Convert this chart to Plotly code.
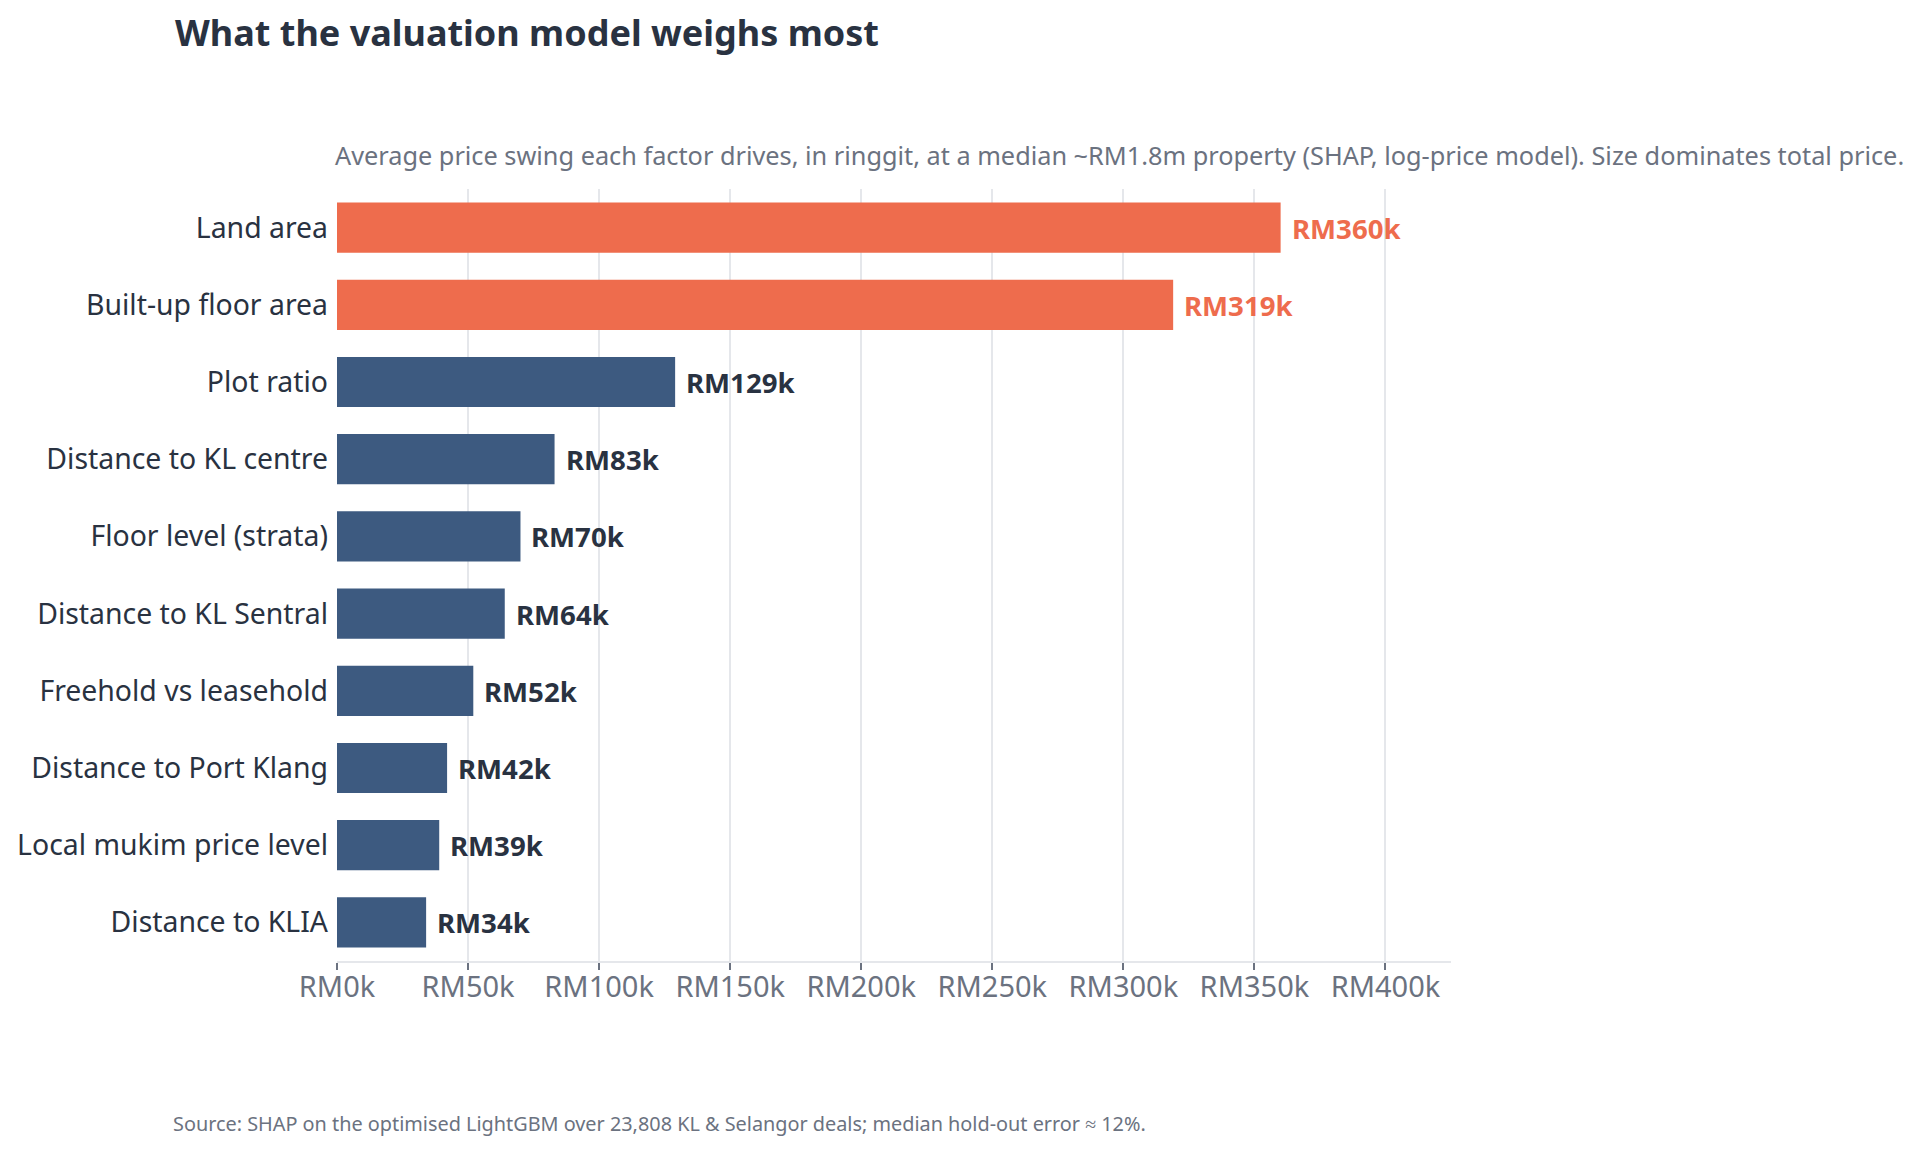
import plotly.graph_objects as go

# factors ranked by mean |SHAP| converted to ringgit (thousands)
factors = ["Land area", "Built-up floor area", "Plot ratio", "Distance to KL centre",
           "Floor level (strata)", "Distance to KL Sentral", "Freehold vs leasehold",
           "Distance to Port Klang", "Local mukim price level", "Distance to KLIA"]
swing_k = [360, 319, 129, 83, 70, 64, 52, 42, 39, 34]
highlight = [True, True, False, False, False, False, False, False, False, False]
tick_vals = [0, 50, 100, 150, 200, 250, 300, 350, 400]
tick_text = ["RM%dk" % v for v in tick_vals]

ORANGE = "#EE6C4D"
NAVY = "#3D5A80"
DARK = "#293241"
GREY = "#6B7280"
FONT = "Noto Sans"

# page has an 8px body margin, so the figure is laid out relative to that
W, H = 1920, 1152
ML, MR, MT, MB = 329, 477, 181, 199

values = [v * 1000 for v in swing_k]
colors = [ORANGE if h else NAVY for h in highlight]

fig = go.Figure()
fig.add_trace(go.Bar(
    x=values, y=factors, orientation="h",
    marker=dict(color=colors, line=dict(width=0)),
    hoverinfo="skip",
))

# value labels at the end of each bar
for f, v, h in zip(factors, values, highlight):
    fig.add_annotation(
        x=v, y=f, xref="x", yref="y", text="RM%dk" % (v // 1000),
        showarrow=False, xanchor="left", xshift=9,
        font=dict(family=FONT, size=27.6, color=ORANGE if h else DARK, weight=700),
    )

# subtitle sits just above the plot area, flush with its left edge
fig.add_annotation(
    x=0, y=1, xref="paper", yref="paper", yshift=34, xshift=-4,
    xanchor="left", yanchor="middle",
    text="Average price swing each factor drives, in ringgit, at a median ~RM1.8m property "
         "(SHAP, log-price model). Size dominates total price.",
    showarrow=False, font=dict(family=FONT, size=25.3, color=GREY),
)

# footnote in the bottom-left gutter
pw, ph = W - ML - MR, H - MT - MB
fig.add_annotation(
    x=(163 - ML) / pw, y=(MB - 37) / -ph, xref="paper", yref="paper",
    xanchor="left", yanchor="middle",
    text="Source: SHAP on the optimised LightGBM over 23,808 KL &amp; Selangor deals; "
         "median hold-out error \u2248 12%.",
    showarrow=False, font=dict(family=FONT, size=19.85, color=GREY),
)

fig.update_layout(
    width=W, height=H,
    paper_bgcolor="white", plot_bgcolor="white",
    title=dict(text="What the valuation model weighs most", x=167 / W, xanchor="left",
               y=1 - 25.5 / H, yanchor="middle",
               font=dict(family=FONT, size=36, color=DARK, weight=700)),
    margin=dict(l=ML, r=MR, t=MT, b=MB),
    bargap=0.35,
    showlegend=False,
    font=dict(family=FONT, color=DARK),
)
fig.update_xaxes(
    range=[0, 425000], tickvals=[v * 1000 for v in tick_vals], ticktext=tick_text,
    showgrid=True, gridcolor="#E5E7EB", gridwidth=2,
    showline=True, linecolor="#E5E7EB", linewidth=2,
    ticks="outside", ticklen=7, tickcolor=GREY, tickwidth=2, ticklabelstandoff=-8,
    tickfont=dict(family=FONT, size=29, color=GREY), zeroline=False,
    automargin=False,
)
fig.update_yaxes(
    autorange="reversed", ticks="", ticklabelstandoff=8,
    tickfont=dict(family=FONT, size=28.4, color=DARK),
    automargin=False,
)

fig.write_html("out.html")
